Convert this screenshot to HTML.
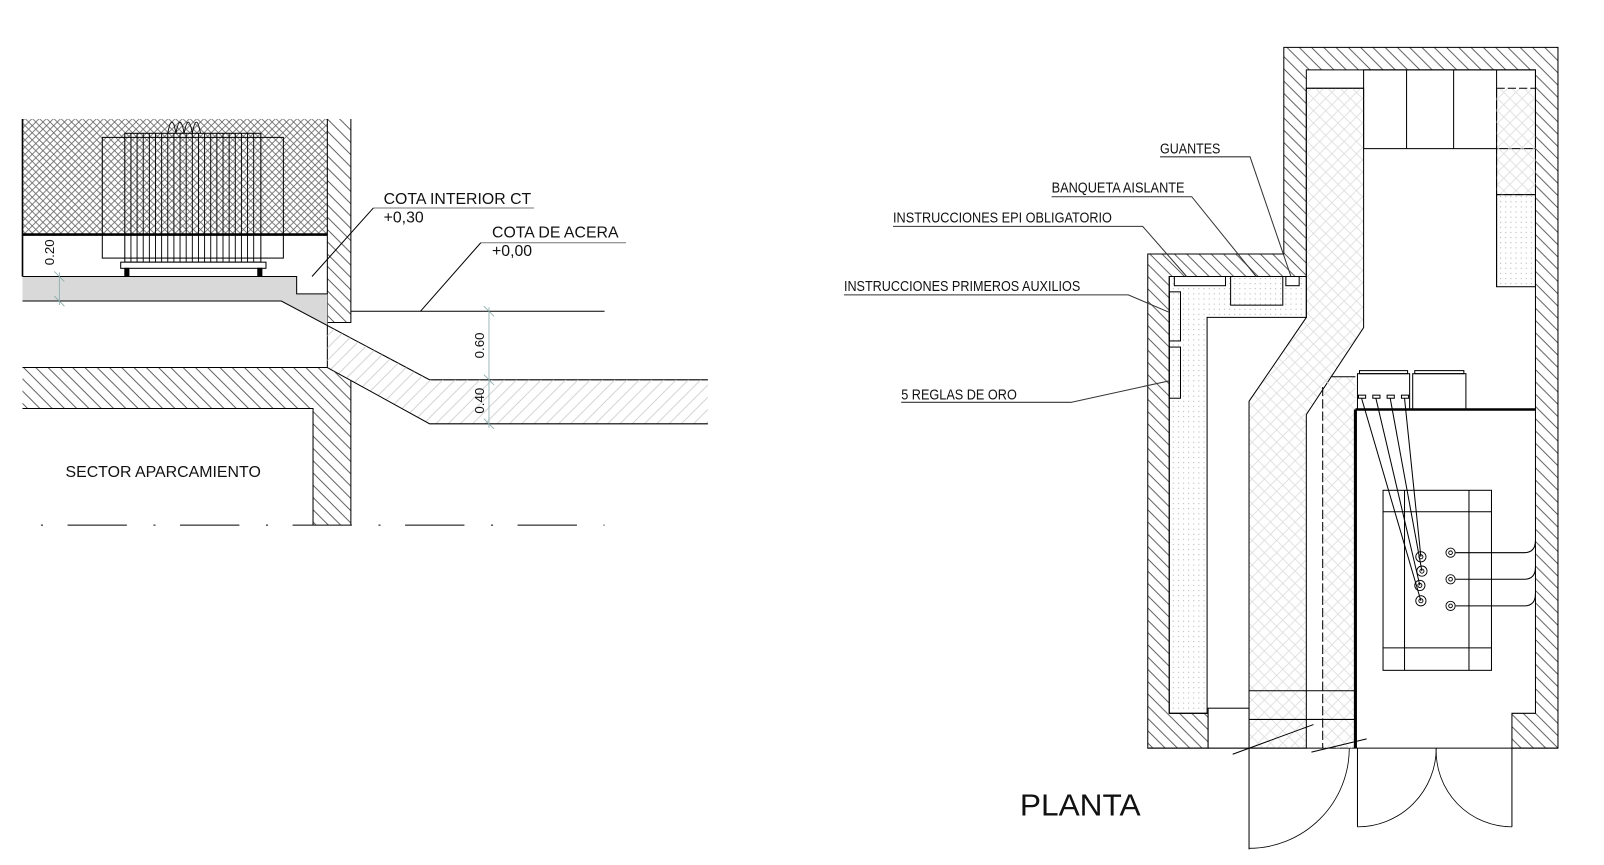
<!DOCTYPE html>
<html><head><meta charset="utf-8"><style>
html,body{margin:0;padding:0;background:#fff;}
svg{display:block;}
text{font-family:"Liberation Sans",sans-serif;fill:#111;}
</style></head><body>
<svg width="1604" height="865" viewBox="0 0 1568 845" xmlns="http://www.w3.org/2000/svg">
<defs>
<pattern id="hat" width="12" height="12" patternUnits="userSpaceOnUse">
<path d="M-3,-3 L15,15 M-3,9 L3,15 M9,-3 L15,3" stroke="#444" stroke-width="0.8"/>
</pattern>
<pattern id="hatL" width="12" height="12" patternUnits="userSpaceOnUse">
<path d="M-3,15 L15,-3 M-3,3 L3,-3 M9,15 L15,9" stroke="#ccc" stroke-width="0.8"/>
</pattern>
<pattern id="mesh" width="7" height="7" patternUnits="userSpaceOnUse">
<path d="M0,0 L7,7 M7,0 L0,7" stroke="#666" stroke-width="0.8"/>
</pattern>
<pattern id="meshL" width="12" height="12" patternUnits="userSpaceOnUse">
<path d="M0,0 L12,12 M12,0 L0,12" stroke="#ddd" stroke-width="0.8"/>
</pattern>
<pattern id="dots" width="5" height="5" patternUnits="userSpaceOnUse">
<circle cx="2" cy="2" r="0.5" fill="#999"/>
</pattern>
</defs>

<!-- ============ LEFT SECTION ============ -->
<g stroke="#000" stroke-width="1" fill="none">
<rect x="22" y="116" width="298" height="113" fill="url(#mesh)" stroke="none"/>
<line x1="22" y1="116" x2="22" y2="270" stroke-width="1.6"/>
<line x1="22" y1="229" x2="320" y2="229" stroke-width="2.5"/>
<rect x="320" y="116" width="23" height="199" fill="url(#hat)" stroke="none"/>
<polyline points="320,116 320,359"/>
<polyline points="343,116 343,315 320,315"/>
<rect x="100" y="134" width="177" height="118"/>
<rect x="122" y="130" width="133" height="126"/>
<g stroke-width="0.9">
<path d="M128,130V256M134,130V256M140,130V256M146,130V256M152,130V256M158,130V256M164,130V256M170,130V256M176,130V256M182,130V256M188,130V256M194,130V256M200,130V256M206,130V256M212,130V256M218,130V256M224,130V256M230,130V256M236,130V256M242,130V256M248,130V256"/>
<path d="M164,130 q4,-22 8,0 q4,-22 8,0 q4,-22 8,0 q4,-22 8,0" />
</g>
<rect x="118" y="256" width="142" height="6" fill="#fff"/>
<rect x="122" y="262" width="4" height="7" fill="#000"/>
<rect x="252" y="262" width="4" height="7" fill="#000"/>
<polygon points="22,270 290,270 290,287 320,287 320,318 275,294 22,294" fill="#d9d9d9" stroke="none"/>
<polyline points="22,270 290,270 290,287 320,287"/>
<polyline points="22,294 275,294 420,371 692,371"/>
<line x1="343" y1="304" x2="591" y2="304"/>
<polygon points="320,318 420,371 692,371 692,414 420,414 320,359" fill="url(#hatL)" stroke="none"/>
<polyline points="320,359 420,414 692,414"/>
<polygon points="22,359 320,359 343,372 343,513 306,513 306,399 22,399" fill="url(#hat)" stroke="none"/>
<line x1="22" y1="359" x2="320" y2="359"/>
<polyline points="22,399 306,399 306,513"/>
<line x1="343" y1="372" x2="343" y2="513"/>
<line x1="40" y1="513" x2="591" y2="513" stroke-dasharray="2 24 58 26"/>
<polyline points="522,203 365,203" stroke="#777"/>
<polyline points="612,237 470,237" stroke="#777"/>
<line x1="365" y1="203" x2="305" y2="270"/>
<line x1="470" y1="237" x2="411" y2="304"/>
</g>
<g stroke="#8aa" stroke-width="0.8" fill="none">
<line x1="478" y1="300" x2="478" y2="418"/>
<path d="M473,299 l10,10 M473,366 l10,10 M473,409 l10,10"/>
<line x1="58" y1="266" x2="58" y2="298"/>
<path d="M53,265 l10,10 M53,289 l10,10"/>
</g>
<g fill="#333" font-size="13">
<text transform="translate(473,350) rotate(-90)">0.60</text>
<text transform="translate(473,404) rotate(-90)">0.40</text>
<text transform="translate(53,259) rotate(-90)">0.20</text>
</g>
<g font-size="15.5">
<text x="375" y="199">COTA INTERIOR CT</text>
<text x="375" y="217">+0,30</text>
<text x="481" y="232">COTA DE ACERA</text>
<text x="481" y="250">+0,00</text>
<text x="64" y="466" textLength="191" lengthAdjust="spacingAndGlyphs">SECTOR APARCAMIENTO</text>
</g>

<!-- ============ RIGHT PLAN ============ -->
<g stroke="#000" stroke-width="1" fill="none">
<polygon points="1255,46 1523,46 1523,731 1478,731 1478,697 1501,697 1501,68 1277,68 1277,270 1143,270 1143,697 1181,697 1181,731 1122,731 1122,248 1255,248" fill="url(#hat)"/>
<line x1="1122" y1="731" x2="1523" y2="731"/>
<rect x="1181" y="692" width="40" height="39" fill="#fff"/>
<rect x="1333" y="68" width="168" height="77"/>
<line x1="1375" y1="68" x2="1375" y2="145"/>
<line x1="1421" y1="68" x2="1421" y2="145"/>
<line x1="1463" y1="68" x2="1463" y2="280"/>
<line x1="1277" y1="86" x2="1333" y2="86"/>
<rect x="1463" y="86" width="38" height="104" fill="url(#meshL)" stroke="#000" stroke-dasharray="8 3"/>
<rect x="1463" y="190" width="38" height="90" fill="url(#dots)"/>
<polygon points="1277,86 1333,86 1333,320 1277,405 1277,731 1221,731 1221,392 1277,310" fill="url(#meshL)"/>
<polygon points="1143,270 1277,270 1277,310 1180,310 1180,697 1143,697" fill="url(#dots)"/>
<rect x="1148" y="270" width="50" height="9" fill="#fff"/>
<rect x="1203" y="270" width="51" height="28"/>
<rect x="1257" y="270" width="13" height="9" fill="#fff"/>
<rect x="1143" y="285" width="11" height="48"/>
<rect x="1143" y="339" width="11" height="50"/>
<polygon points="1293,378 1302,368 1325,368 1325,731 1293,731" fill="url(#meshL)" stroke="none"/>
<line x1="1293" y1="378" x2="1293" y2="731" stroke-dasharray="9 3"/>
<line x1="1302" y1="368" x2="1325" y2="368"/>
<line x1="1325" y1="400" x2="1325" y2="731" stroke-width="3"/>
<line x1="1325" y1="400" x2="1501" y2="400" stroke-width="2.5"/>
<line x1="1221" y1="675" x2="1325" y2="675"/>
<line x1="1221" y1="703" x2="1325" y2="703"/>
<line x1="1205" y1="737" x2="1284" y2="708"/>
<line x1="1282" y1="735" x2="1336" y2="722"/>
<rect x="1327" y="365" width="51" height="35"/>
<rect x="1381" y="365" width="52" height="35"/>
<rect x="1329" y="362" width="47" height="3"/>
<rect x="1383" y="362" width="48" height="3"/>
<g fill="#fff">
<rect x="1328" y="386" width="7" height="3"/><rect x="1342" y="386" width="7" height="3"/>
<rect x="1356" y="386" width="7" height="3"/><rect x="1370" y="386" width="7" height="3"/>
</g>
<rect x="1352" y="479" width="106" height="176"/>
<line x1="1373" y1="479" x2="1373" y2="655"/>
<line x1="1436" y1="479" x2="1436" y2="655"/>
<line x1="1352" y1="500" x2="1458" y2="500"/>
<line x1="1352" y1="633" x2="1458" y2="633"/>
<line x1="1331" y1="389" x2="1389" y2="587"/>
<line x1="1345" y1="389" x2="1388" y2="572"/>
<line x1="1359" y1="389" x2="1390" y2="558"/>
<line x1="1373" y1="389" x2="1389" y2="544"/>
<g stroke-width="0.9">
<circle cx="1389" cy="544" r="5"/><circle cx="1389" cy="544" r="2"/>
<circle cx="1390" cy="558" r="5"/><circle cx="1390" cy="558" r="2"/>
<circle cx="1388" cy="572" r="5"/><circle cx="1388" cy="572" r="2"/>
<circle cx="1389" cy="587" r="5"/><circle cx="1389" cy="587" r="2"/>
<circle cx="1418" cy="540" r="4.5"/><circle cx="1418" cy="540" r="1.8"/>
<circle cx="1418" cy="566" r="4.5"/><circle cx="1418" cy="566" r="1.8"/>
<circle cx="1418" cy="592" r="4.5"/><circle cx="1418" cy="592" r="1.8"/>
</g>
<path d="M1423,540 H1490 q11,0 11,-12"/>
<path d="M1423,566 H1490 q11,0 11,-12"/>
<path d="M1423,592 H1490 q11,0 11,-12"/>
<line x1="1221" y1="731" x2="1221" y2="830"/>
<path d="M1319,731 A98,98 0 0 1 1221,829" stroke-width="0.8"/>
<line x1="1327" y1="731" x2="1327" y2="808"/>
<line x1="1478" y1="731" x2="1478" y2="808"/>
<path d="M1404,731 A77,77 0 0 1 1327,808" stroke-width="0.8"/>
<path d="M1404,731 A74,74 0 0 0 1478,808" stroke-width="0.8"/>
<polyline points="1134,153 1222,153 1262,270" stroke="#333"/>
<polyline points="1028,192 1165,192 1228,270" stroke="#333"/>
<polyline points="873,221 1117,221 1160,270" stroke="#333"/>
<polyline points="825,288 1103,288 1143,305" stroke="#333"/>
<polyline points="881,393 1047,393 1143,372" stroke="#333"/>
</g>
<g font-size="14">
<text x="1134" y="150" textLength="59" lengthAdjust="spacingAndGlyphs">GUANTES</text>
<text x="1028" y="188" textLength="130" lengthAdjust="spacingAndGlyphs">BANQUETA AISLANTE</text>
<text x="873" y="217" textLength="214" lengthAdjust="spacingAndGlyphs">INSTRUCCIONES EPI OBLIGATORIO</text>
<text x="825" y="284" textLength="231" lengthAdjust="spacingAndGlyphs">INSTRUCCIONES PRIMEROS AUXILIOS</text>
<text x="881" y="390" textLength="113" lengthAdjust="spacingAndGlyphs">5 REGLAS DE ORO</text>
</g>
<text x="997" y="797" font-size="30" textLength="118" lengthAdjust="spacingAndGlyphs">PLANTA</text>
</svg>
</body></html>
